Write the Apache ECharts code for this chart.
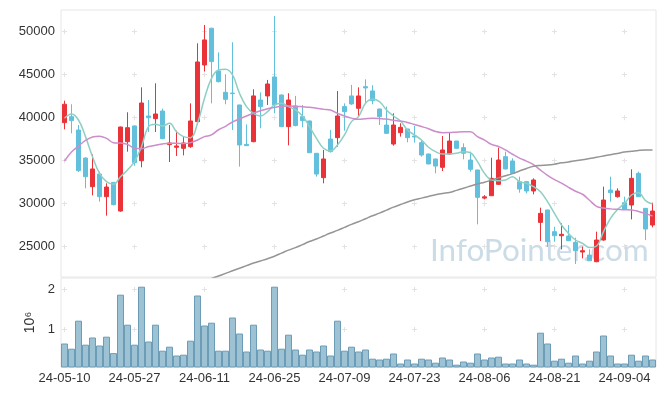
<!DOCTYPE html>
<html>
<head>
<meta charset="utf-8">
<script src="https://cdn.jsdelivr.net/npm/echarts@6/dist/echarts.min.js"></script>
<style>
html,body{margin:0;padding:0;background:#fff;}
#chart{width:665px;height:396px;}
</style>
</head>
<body>
<div id="chart"></div>
<script>
var dates = ['24-05-10','24-05-13','24-05-14','24-05-16','24-05-17','24-05-20','24-05-21','24-05-22','24-05-23','24-05-24','24-05-27','24-05-28','24-05-29','24-05-30','24-05-31','24-06-03','24-06-04','24-06-05','24-06-07','24-06-10','24-06-11','24-06-12','24-06-13','24-06-14','24-06-17','24-06-18','24-06-19','24-06-20','24-06-21','24-06-24','24-06-25','24-06-26','24-06-27','24-06-28','24-07-01','24-07-02','24-07-03','24-07-04','24-07-05','24-07-08','24-07-09','24-07-10','24-07-11','24-07-12','24-07-15','24-07-16','24-07-17','24-07-18','24-07-19','24-07-22','24-07-23','24-07-24','24-07-25','24-07-26','24-07-29','24-07-30','24-07-31','24-08-01','24-08-02','24-08-05','24-08-06','24-08-07','24-08-08','24-08-09','24-08-12','24-08-13','24-08-14','24-08-16','24-08-19','24-08-20','24-08-21','24-08-22','24-08-23','24-08-26','24-08-27','24-08-28','24-08-29','24-08-30','24-09-02','24-09-03','24-09-04','24-09-05','24-09-06','24-09-09','24-09-10'];

var openP = [39420,40120,38570,35310,31980,33450,30820,32480,29150,37210,39040,35000,40200,39890,40780,36870,36560,36440,36630,39540,46130,50400,45430,42950,42870,41480,36900,37210,42060,42530,44740,42640,38960,41360,40120,39620,35860,33030,37520,37680,41290,42530,41090,43610,43110,41010,39150,36940,38260,38690,37870,37100,35780,35200,34230,35780,37290,36520,35080,33920,30650,30930,32250,35470,34970,32560,32560,31480,27830,29270,26750,26280,26240,25510,24380,24030,23260,25780,31590,30820,30120,29850,33530,29460,27520];
var closeP = [41560,39660,33840,33140,34040,30820,31940,29890,38920,38840,34770,41710,40000,40430,37560,37060,36710,37060,39620,46480,49040,46520,44190,42140,42800,36830,36750,42530,41290,43920,41480,38960,42060,39080,39660,35930,33450,35200,36050,40200,40700,41600,42530,43460,41980,40120,38180,39150,38880,37680,37760,35660,34620,34380,36250,37290,36440,35860,34000,30740,30800,32950,35080,34040,33530,31710,31480,32760,28880,25580,26280,26440,25700,24540,24540,23370,25780,30430,31280,31480,29340,32950,30820,27060,29150];
var lowP = [38650,38180,33700,31790,30970,30240,28610,29800,29070,36050,34420,34230,38340,38340,37500,34850,35550,35620,36500,39150,45360,41670,44100,41560,38570,34310,36700,37150,38770,41480,40510,38900,36790,39000,38880,35900,33140,32370,35950,36630,38490,41480,40120,41600,41560,39150,38150,36750,37800,37140,37100,35470,34600,33530,33800,35700,36400,35160,33730,27600,30500,30900,32170,34000,33500,31280,31200,31090,25660,25000,25580,24690,25650,22990,23640,23350,23200,25700,30240,30700,29300,28180,30800,25780,27250];
var highP = [41980,41560,39150,35400,35740,33730,32370,32500,38950,40630,39100,43530,42060,44000,41050,39150,38490,37870,41670,48650,50780,50450,47600,45050,48770,41500,39230,43300,42950,44390,51830,42700,42840,42530,41480,39650,35900,36250,38580,43110,41670,43810,43530,44460,43770,41050,41290,40510,39350,38700,39040,37410,35800,35250,37870,38260,37300,37020,36050,33950,31000,35350,36520,36050,35280,33140,32600,32950,29540,29300,27330,27720,27520,26050,25000,24690,26750,31980,33140,31790,30820,34000,33730,29500,30120];

var ma5 = [39930,40430,39730,37800,35470,33530,32560,32250,33140,33920,34890,36630,38960,39230,39040,39350,38370,37800,37680,39350,42250,44580,45550,45630,44970,42840,41290,40510,40200,40700,41480,41670,41290,40900,40200,38960,37600,36440,36130,36830,37990,39540,40120,41670,42140,41870,40900,40200,39620,38570,37990,37410,36560,36050,35780,35780,35860,36050,35930,34890,33530,32760,32680,32760,33140,32560,32370,31980,31400,30240,28880,27520,26550,25780,25390,24920,25080,26750,28300,29340,30040,31010,31280,30350,29960];
var ma20 = [34970,36000,36700,37350,37750,37850,37600,37100,37050,36900,36450,36400,36650,36800,36950,37020,37020,37000,37100,37400,37800,38000,38600,39000,39500,39850,40200,40520,40800,41050,41200,41330,41360,41330,41270,41210,41100,40990,40890,40500,40200,39950,39820,39880,39930,39900,39840,39700,39600,39450,39200,38970,38720,38400,38260,38270,38320,38360,38370,37800,37400,36900,36650,36250,35750,35300,34950,34550,33900,33300,32800,32400,31900,31450,31100,30400,29700,29500,29400,29350,29300,29270,29100,28850,28570];
var ma120 = [16000,16250,16500,16750,17000,17250,17500,17750,18000,18250,18500,18750,19000,19250,19500,19750,20000,20250,20500,20750,21000,21300,21600,21900,22200,22500,22800,23100,23350,23600,23900,24250,24600,24900,25250,25600,25900,26250,26600,26900,27250,27600,27900,28250,28600,28900,29250,29600,29900,30200,30450,30650,30850,31050,31200,31300,31550,31800,32050,32300,32500,32750,33000,33250,33500,33800,34100,34350,34450,34500,34600,34750,34850,35000,35100,35250,35400,35550,35700,35850,36000,36100,36200,36250,36250];

// volume in millions of shares
var volume = [0.65,0.52,1.22,0.62,0.80,0.60,0.82,0.41,1.87,1.12,0.62,2.07,0.70,1.12,0.47,0.57,0.35,0.37,0.72,1.85,1.10,1.17,0.47,0.47,1.30,0.90,0.45,1.12,0.50,0.47,2.07,0.52,0.87,0.50,0.37,0.50,0.45,0.60,0.35,1.22,0.47,0.57,0.45,0.50,0.27,0.25,0.27,0.40,0.15,0.25,0.15,0.27,0.25,0.17,0.30,0.25,0.12,0.20,0.17,0.40,0.25,0.30,0.32,0.15,0.15,0.25,0.15,0.12,0.92,0.65,0.22,0.27,0.17,0.35,0.15,0.22,0.45,0.85,0.35,0.15,0.15,0.37,0.22,0.35,0.25];

var priceTicks = [25000,30000,35000,40000,45000,50000];
var volumeTicks = [1,2];
var dateTickIdx = [0,10,20,30,40,50,60,70,80];

var ohlc = dates.map(function(d,i){ return [openP[i], closeP[i], lowP[i], highP[i]]; });

var FONT = 'Liberation Sans';
var chart = echarts.init(document.getElementById('chart'), null, {renderer:'canvas'});
var gridLineColor = '#e3e3e3';
function plain(v){ return String(v); }

chart.setOption({
  animation:false,
  backgroundColor:'#fff',
  textStyle:{fontFamily:FONT},
  graphic:[{
    type:'text', left:430, top:235, z:-10, silent:true,
    style:{text:'InfoPointer.com', font:'31.5px Lato', fill:'#cbdce7'}
  }],
  grid:[
    {left:61, right:9, top:10, height:267, show:true, borderColor:'#e6e6e6', borderWidth:1, backgroundColor:'transparent'},
    {left:61, right:9, top:278, height:89, show:true, borderColor:'#e6e6e6', borderWidth:1, backgroundColor:'transparent'}
  ],
  xAxis:[
    {type:'category', gridIndex:0, data:dates, boundaryGap:true,
     axisLine:{show:false}, axisTick:{show:false}, axisLabel:{show:false}, splitLine:{show:false}},
    {type:'category', gridIndex:1, data:dates, boundaryGap:true,
     axisLine:{show:false}, axisTick:{show:false}, splitLine:{show:false},
     axisLabel:{interval:9, fontSize:13, color:'#333', margin:5, fontFamily:FONT}},
    {type:'value', gridIndex:0, min:-0.5, max:dates.length-0.5,
     axisLine:{show:false}, axisLabel:{show:false},
     axisTick:{show:false, customValues:dateTickIdx},
     splitLine:{show:true, lineStyle:{color:gridLineColor, width:1, type:[5,38.01], dashOffset:23.8}}},
    {type:'value', gridIndex:1, min:-0.5, max:dates.length-0.5,
     axisLine:{show:false}, axisLabel:{show:false},
     axisTick:{show:false, customValues:dateTickIdx},
     splitLine:{show:true, lineStyle:{color:gridLineColor, width:1, type:[5,35], dashOffset:31}}}
  ],
  yAxis:[
    {type:'value', gridIndex:0, min:21480, max:52520, scale:true,
     axisLine:{show:false}, axisTick:{show:false, customValues:priceTicks},
     axisLabel:{customValues:priceTicks, formatter:plain, fontSize:13, color:'#333', margin:6, fontFamily:FONT},
     splitLine:{show:true, lineStyle:{color:gridLineColor, width:1, type:[5,65], dashOffset:69}}},
    {type:'value', gridIndex:1, min:0.0625, max:2.2875,
     name:'10⁶', nameLocation:'middle', nameRotate:90, nameGap:20,
     nameTextStyle:{fontSize:14, color:'#333', fontFamily:FONT},
     axisLine:{show:false}, axisTick:{show:false, customValues:volumeTicks},
     axisLabel:{customValues:volumeTicks, formatter:plain, fontSize:13, color:'#333', margin:6, fontFamily:FONT},
     splitLine:{show:true, lineStyle:{color:gridLineColor, width:1, type:[5,65], dashOffset:69}}}
  ],
  series:[
    {type:'candlestick', name:'price', xAxisIndex:0, yAxisIndex:0, data:ohlc, barWidth:5,
     itemStyle:{color:'#ea3339', color0:'#62c0dc', borderColor:'#ea3339', borderColor0:'#62c0dc', borderWidth:1}},
    {type:'line', name:'MA5', xAxisIndex:0, yAxisIndex:0, data:ma5, smooth:0.4, showSymbol:false,
     lineStyle:{color:'#8fcfc3', width:1.5}, z:3},
    {type:'line', name:'MA20', xAxisIndex:0, yAxisIndex:0, data:ma20, smooth:0.4, showSymbol:false,
     lineStyle:{color:'#cc8dca', width:1.5}, z:3},
    {type:'line', name:'MA120', xAxisIndex:0, yAxisIndex:0, data:ma120, smooth:0.4, showSymbol:false,
     lineStyle:{color:'#959595', width:1.5}, z:3},
    {type:'bar', name:'volume', xAxisIndex:1, yAxisIndex:1, data:volume, barWidth:'100%',
     itemStyle:{color:'#9cc2d4', borderColor:'#6c9cb6', borderWidth:1}}
  ]
});
</script>
</body>
</html>
